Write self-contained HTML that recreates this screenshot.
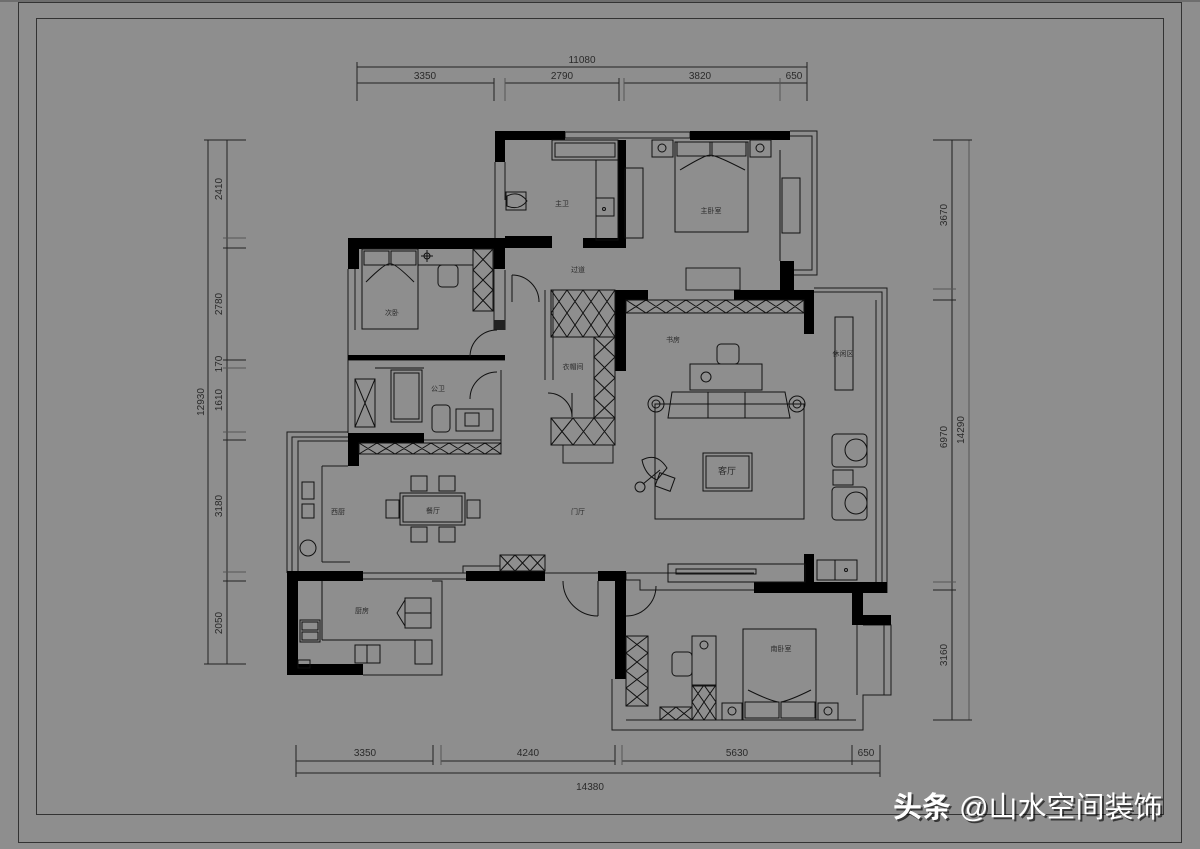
<!DOCTYPE html>
<html><head><meta charset="utf-8"><style>
html,body{margin:0;padding:0;background:#8e8e8e;}
svg{display:block;}
text{font-family:"Liberation Sans","Noto Sans CJK SC",sans-serif;fill:#2a2a2a;}
.d{font-size:10px;fill:#333;}
.l{font-size:7px;fill:#222;}
</style></head><body>
<svg width="1200" height="849" viewBox="0 0 1200 849" xmlns="http://www.w3.org/2000/svg">
<rect width="1200" height="849" fill="#8e8e8e"/>
<rect x="0" y="0" width="1200" height="2" fill="#6e6e6e"/>
<g fill="none" stroke="#333" stroke-width="1">
<rect x="18.5" y="2.5" width="1163" height="840"/>
<rect x="36.5" y="18.5" width="1127" height="796"/>
</g>
<g stroke="#222" stroke-width="1" fill="none">
<line x1="357" y1="67" x2="807" y2="67"/>
<line x1="357" y1="83" x2="494" y2="83"/><line x1="505" y1="83" x2="619" y2="83"/><line x1="624" y1="83" x2="780" y2="83"/><line x1="780" y1="83" x2="807" y2="83"/>
<line x1="357" y1="62" x2="357" y2="101"/><line x1="494" y1="78" x2="494" y2="101"/><line x1="505" y1="78" x2="505" y2="101" stroke="#555"/><line x1="619" y1="78" x2="619" y2="101"/><line x1="624" y1="78" x2="624" y2="101" stroke="#555"/><line x1="780" y1="78" x2="780" y2="101" stroke="#555"/><line x1="807" y1="62" x2="807" y2="101"/>
<line x1="208" y1="140" x2="208" y2="664"/>
<line x1="227" y1="140" x2="227" y2="664"/>
<line x1="204" y1="140" x2="246" y2="140"/><line x1="223" y1="238" x2="246" y2="238" stroke="#555"/><line x1="223" y1="248" x2="246" y2="248"/><line x1="223" y1="360" x2="246" y2="360"/><line x1="223" y1="368" x2="246" y2="368" stroke="#555"/><line x1="223" y1="432" x2="246" y2="432" stroke="#555"/><line x1="223" y1="440" x2="246" y2="440"/><line x1="223" y1="572" x2="246" y2="572" stroke="#555"/><line x1="223" y1="581" x2="246" y2="581"/><line x1="204" y1="664" x2="246" y2="664"/>
<line x1="952" y1="140" x2="952" y2="720" stroke="#444" stroke-width="1.5"/>
<line x1="969" y1="140" x2="969" y2="720" stroke="#555"/>
<line x1="933" y1="140" x2="972" y2="140"/><line x1="933" y1="289" x2="956" y2="289" stroke="#555"/><line x1="933" y1="300" x2="956" y2="300"/><line x1="933" y1="582" x2="956" y2="582" stroke="#555"/><line x1="933" y1="590" x2="956" y2="590"/><line x1="933" y1="720" x2="972" y2="720"/>
<line x1="296" y1="761" x2="433" y2="761"/><line x1="441" y1="761" x2="615" y2="761"/><line x1="622" y1="761" x2="852" y2="761"/><line x1="852" y1="761" x2="880" y2="761"/>
<line x1="296" y1="773" x2="880" y2="773"/>
<line x1="296" y1="745" x2="296" y2="777"/><line x1="433" y1="745" x2="433" y2="765"/><line x1="441" y1="745" x2="441" y2="765" stroke="#555"/><line x1="615" y1="745" x2="615" y2="765"/><line x1="622" y1="745" x2="622" y2="765" stroke="#555"/><line x1="852" y1="745" x2="852" y2="765"/><line x1="880" y1="745" x2="880" y2="777"/>
</g>
<g class="d" text-anchor="middle">
<text x="582" y="63">11080</text>
<text x="425" y="79">3350</text><text x="562" y="79">2790</text><text x="700" y="79">3820</text><text x="794" y="79">650</text>
<text x="365" y="756">3350</text><text x="528" y="756">4240</text><text x="737" y="756">5630</text><text x="866" y="756">650</text>
<text x="590" y="790">14380</text>
<text transform="translate(222,189) rotate(-90)">2410</text>
<text transform="translate(222,304) rotate(-90)">2780</text>
<text transform="translate(222,364) rotate(-90)">170</text>
<text transform="translate(222,400) rotate(-90)">1610</text>
<text transform="translate(222,506) rotate(-90)">3180</text>
<text transform="translate(222,623) rotate(-90)">2050</text>
<text transform="translate(204,402) rotate(-90)">12930</text>
<text transform="translate(947,215) rotate(-90)">3670</text>
<text transform="translate(947,437) rotate(-90)">6970</text>
<text transform="translate(947,655) rotate(-90)">3160</text>
<text transform="translate(964,430) rotate(-90)">14290</text>
</g>
<g fill="none" stroke="#1a1a1a" stroke-width="1">
<rect x="565" y="132" width="125" height="6"/>
<polyline points="790,131 817,131 817,275 794,275"/>
<polyline points="790,136 812,136 812,270 794,270"/>
<line x1="495" y1="162" x2="495" y2="248"/><line x1="505" y1="162" x2="505" y2="200"/>
<line x1="348" y1="269" x2="348" y2="360"/><line x1="355" y1="269" x2="355" y2="330"/>
<line x1="348" y1="360" x2="505" y2="360"/>
<line x1="348" y1="360" x2="348" y2="433"/><line x1="424" y1="440" x2="501" y2="440"/>
<line x1="501" y1="370" x2="501" y2="454"/>
<line x1="494" y1="249" x2="494" y2="330"/><line x1="505" y1="270" x2="505" y2="330"/>
<polyline points="348,432 287,432 287,573"/><polyline points="348,437 292,437 292,573"/><polyline points="348,441 298,441 298,573"/>
<line x1="322" y1="466" x2="348" y2="466"/><line x1="322" y1="466" x2="322" y2="562"/><line x1="322" y1="562" x2="350" y2="562"/>
<line x1="363" y1="573" x2="466" y2="573"/><line x1="363" y1="579" x2="466" y2="579"/>
<polyline points="432,581 442,581 442,675 363,675"/>
<line x1="545" y1="573" x2="598" y2="573"/>
<line x1="626" y1="573" x2="754" y2="573"/>
<polyline points="626,573 626,580 640,580 640,590 754,590"/>
<line x1="545" y1="290" x2="545" y2="380"/><line x1="553" y1="290" x2="553" y2="380"/>
<polyline points="814,288 887,288 887,593"/><polyline points="814,292 882,292 882,582"/><line x1="876" y1="300" x2="876" y2="582"/>
<polyline points="863,625 891,625 891,695 863,695 863,730 612,730 612,679"/><line x1="884" y1="625" x2="884" y2="695"/><line x1="857" y1="625" x2="857" y2="695"/>
<line x1="626" y1="720" x2="856" y2="720"/>
<rect x="686" y="268" width="54" height="22"/>
<rect x="563" y="445" width="50" height="18"/>
<rect x="463" y="566" width="37" height="7"/>
</g>
<g fill="#000">
<rect x="495" y="131" width="70" height="9"/>
<rect x="690" y="131" width="100" height="9"/>
<rect x="495" y="131" width="10" height="31"/>
<rect x="618" y="140" width="8" height="108"/>
<rect x="583" y="238" width="43" height="10"/>
<rect x="505" y="236" width="47" height="12"/>
<rect x="780" y="261" width="14" height="30"/>
<rect x="348" y="238" width="157" height="11"/>
<rect x="348" y="238" width="11" height="31"/>
<rect x="494" y="238" width="11" height="31"/>
<rect x="494" y="320" width="11" height="10" fill="#222"/>
<rect x="348" y="355" width="157" height="5"/>
<rect x="348" y="433" width="76" height="10"/>
<rect x="348" y="433" width="11" height="33"/>
<rect x="615" y="290" width="11" height="81"/>
<rect x="615" y="290" width="33" height="10"/>
<rect x="734" y="290" width="80" height="10"/>
<rect x="804" y="290" width="10" height="44"/>
<rect x="287" y="571" width="76" height="10"/>
<rect x="466" y="571" width="79" height="10"/>
<rect x="287" y="571" width="11" height="104"/>
<rect x="287" y="664" width="76" height="11"/>
<rect x="598" y="571" width="28" height="10"/>
<rect x="615" y="571" width="11" height="108"/>
<rect x="754" y="582" width="133" height="11"/>
<rect x="804" y="554" width="10" height="29"/>
<rect x="852" y="593" width="11" height="32"/>
<rect x="852" y="615" width="39" height="10"/>
</g>
<g fill="none" stroke="#111" stroke-width="1">
<rect x="473" y="249" width="20" height="62"/>
<path d="M473,249 L493,270 M493,249 L473,270 M473,270 L493,290 M493,270 L473,290 M473,290 L493,311 M493,290 L473,311"/>
<rect x="355" y="379" width="20" height="48"/><path d="M355,379 L375,427 M375,379 L355,427"/>
<rect x="359" y="443" width="142" height="11"/>
<path d="M359,443 L377,454 M377,443 L359,454 M377,443 L395,454 M395,443 L377,454 M395,443 L413,454 M413,443 L395,454 M413,443 L431,454 M431,443 L413,454 M431,443 L449,454 M449,443 L431,454 M449,443 L467,454 M467,443 L449,454 M467,443 L485,454 M485,443 L467,454 M485,443 L501,454 M501,443 L485,454"/>
<rect x="551" y="290" width="64" height="47"/>
<path d="M551,290 L567,313 M567,290 L551,313 M567,290 L583,313 M583,290 L567,313 M583,290 L599,313 M599,290 L583,313 M599,290 L615,313 M615,290 L599,313 M551,313 L567,337 M567,313 L551,337 M567,313 L583,337 M583,313 L567,337 M583,313 L599,337 M599,313 L583,337 M599,313 L615,337 M615,313 L599,337"/>
<rect x="594" y="337" width="21" height="81"/>
<path d="M594,337 L615,357 M615,337 L594,357 M594,357 L615,378 M615,357 L594,378 M594,378 L615,398 M615,378 L594,398 M594,398 L615,418 M615,398 L594,418"/>
<rect x="551" y="418" width="64" height="27"/>
<path d="M551,418 L573,445 M573,418 L551,445 M573,418 L594,445 M594,418 L573,445 M594,418 L615,445 M615,418 L594,445"/>
<rect x="626" y="300" width="178" height="13"/>
<path d="M626,300 L646,313 M646,300 L626,313 M646,300 L666,313 M666,300 L646,313 M666,300 L686,313 M686,300 L666,313 M686,300 L706,313 M706,300 L686,313 M706,300 L726,313 M726,300 L706,313 M726,300 L746,313 M746,300 L726,313 M746,300 L766,313 M766,300 L746,313 M766,300 L786,313 M786,300 L766,313 M786,300 L804,313 M804,300 L786,313"/>
<rect x="500" y="555" width="45" height="16"/><path d="M500,555 L515,571 M515,555 L500,571 M515,555 L530,571 M530,555 L515,571 M530,555 L545,571 M545,555 L530,571"/>
<rect x="626" y="636" width="22" height="70"/>
<path d="M626,636 L648,653 M648,636 L626,653 M626,653 L648,671 M648,653 L626,671 M626,671 L648,688 M648,671 L626,688 M626,688 L648,706 M648,688 L626,706"/>
<rect x="660" y="707" width="32" height="13"/><path d="M660,707 L676,720 M676,707 L660,720 M676,707 L692,720 M692,707 L676,720"/>
<rect x="692" y="685" width="24" height="35"/><path d="M692,685 L704,702 M704,685 L692,702 M704,685 L716,702 M716,685 L704,702 M692,702 L704,720 M704,702 L692,720 M704,702 L716,720 M716,702 L704,720"/>
</g>
<g fill="none" stroke="#111" stroke-width="1">
<rect x="552" y="140" width="66" height="20"/><rect x="555" y="143" width="60" height="14"/>
<rect x="506" y="192" width="20" height="18"/><path d="M507,196 q12,-6 20,5 q-8,10 -20,5z"/>
<rect x="596" y="198" width="18" height="18"/><circle cx="604" cy="209" r="1.5"/>
<rect x="596" y="160" width="22" height="80"/>
<rect x="625" y="168" width="18" height="70"/>
<rect x="675" y="142" width="73" height="90"/>
<rect x="677" y="142" width="33" height="14"/><rect x="712" y="142" width="34" height="14"/>
<path d="M680,170 q30,-18 30,-14 M745,170 q-35,-18 -35,-14"/>
<rect x="652" y="140" width="21" height="17"/><circle cx="662" cy="148" r="4"/>
<rect x="750" y="140" width="21" height="17"/><circle cx="760" cy="148" r="4"/>
<rect x="782" y="178" width="18" height="55"/>
<line x1="780" y1="150" x2="780" y2="261"/>
<rect x="362" y="249" width="56" height="80"/>
<rect x="364" y="251" width="25" height="14"/><rect x="391" y="251" width="25" height="14"/>
<path d="M366,282 q20,-20 24,-18 M414,282 q-20,-20 -24,-18"/>
<rect x="438" y="265" width="20" height="22" rx="4"/>
<circle cx="427" cy="256" r="3"/><line x1="421" y1="256" x2="433" y2="256"/><line x1="427" y1="250" x2="427" y2="262"/>
<line x1="418" y1="249" x2="418" y2="265"/><line x1="418" y1="265" x2="473" y2="265"/>
<rect x="391" y="370" width="31" height="52"/><rect x="394" y="373" width="25" height="46"/>
<rect x="432" y="405" width="18" height="27" rx="4"/>
<rect x="456" y="409" width="37" height="22"/><rect x="465" y="413" width="14" height="13"/>
<line x1="375" y1="368" x2="424" y2="368"/>
<rect x="400" y="493" width="65" height="32"/><rect x="403" y="496" width="59" height="26"/>
<rect x="411" y="476" width="16" height="15"/><rect x="439" y="476" width="16" height="15"/>
<rect x="411" y="527" width="16" height="15"/><rect x="439" y="527" width="16" height="15"/>
<rect x="386" y="500" width="13" height="18"/><rect x="467" y="500" width="13" height="18"/>
<rect x="302" y="482" width="12" height="17"/><rect x="302" y="504" width="12" height="14"/>
<circle cx="308" cy="548" r="8"/>
<rect x="300" y="620" width="20" height="22"/><rect x="302" y="622" width="16" height="8"/><rect x="302" y="632" width="16" height="8"/>
<line x1="322" y1="581" x2="322" y2="640"/><line x1="322" y1="640" x2="415" y2="640"/>
<rect x="405" y="598" width="26" height="30"/><line x1="405" y1="613" x2="431" y2="613"/>
<path d="M405,600 l-8,13 l8,13"/>
<rect x="355" y="645" width="25" height="18"/><line x1="367" y1="645" x2="367" y2="663"/>
<rect x="415" y="640" width="17" height="24"/>
<rect x="298" y="660" width="12" height="8"/>
<rect x="690" y="364" width="72" height="26"/><circle cx="706" cy="377" r="5"/>
<rect x="717" y="344" width="22" height="20" rx="4"/>
<rect x="655" y="404" width="149" height="115"/>
<path d="M672,392 L785,392 L790,418 L668,418 Z"/><line x1="708" y1="392" x2="708" y2="418"/><line x1="745" y1="392" x2="745" y2="418"/>
<circle cx="656" cy="404" r="8"/><circle cx="656" cy="404" r="4"/>
<circle cx="797" cy="404" r="8"/><circle cx="797" cy="404" r="4"/>
<rect x="703" y="453" width="49" height="38"/><rect x="706" y="456" width="43" height="32"/>
<path d="M642,460 q15,-8 25,8 l-10,12 q-12,-5 -15,-20z"/><circle cx="640" cy="487" r="5"/><line x1="643" y1="484" x2="660" y2="470"/>
<rect x="657" y="475" width="16" height="14" transform="rotate(20 665 482)"/>
<rect x="832" y="434" width="35" height="33" rx="4"/><circle cx="856" cy="450" r="11"/>
<rect x="832" y="487" width="35" height="33" rx="4"/><circle cx="856" cy="503" r="11"/>
<rect x="833" y="470" width="20" height="15"/>
<rect x="835" y="317" width="18" height="73"/>
<rect x="668" y="564" width="137" height="18"/><rect x="676" y="569" width="80" height="5"/>
<rect x="835" y="560" width="22" height="20"/><circle cx="846" cy="570" r="1.5"/>
<rect x="817" y="560" width="18" height="20"/>
<rect x="743" y="629" width="73" height="91"/>
<rect x="745" y="702" width="34" height="16"/><rect x="781" y="702" width="34" height="16"/>
<path d="M748,690 q20,10 30,12 M811,690 q-20,10 -30,12"/>
<rect x="692" y="636" width="24" height="50"/><circle cx="704" cy="645" r="4"/>
<rect x="672" y="652" width="20" height="24" rx="4"/>
<rect x="722" y="703" width="20" height="17"/><circle cx="732" cy="711" r="4"/>
<rect x="818" y="703" width="20" height="17"/><circle cx="828" cy="711" r="4"/>
<path d="M512,275 a27,27 0 0 1 27,27"/><line x1="512" y1="275" x2="512" y2="302"/>
<path d="M470,357 a27,27 0 0 1 27,-27"/>
<path d="M497,372 a27,27 0 0 0 -27,27"/>
<path d="M548,393 a24,24 0 0 1 24,24"/><line x1="572" y1="393" x2="572" y2="417"/>
<path d="M563,581 a35,35 0 0 0 35,35"/><line x1="598" y1="581" x2="598" y2="616"/>
<path d="M626,616 a30,30 0 0 0 30,-30"/>
</g>
<g class="l" text-anchor="middle">
<text x="711" y="213">主卧室</text><text x="562" y="206">主卫</text>
<text x="392" y="315">次卧</text><text x="438" y="391">公卫</text>
<text x="578" y="272">过道</text><text x="573" y="369">衣帽间</text>
<text x="673" y="342">书房</text><text x="843" y="356">休闲区</text>
<text x="338" y="514">西厨</text><text x="433" y="513">餐厅</text><text x="578" y="514">门厅</text>
<text x="362" y="613">厨房</text><text x="781" y="651">南卧室</text>
<text x="727" y="474" style="font-size:9px">客厅</text>
</g>
<text x="895" y="819" style="font-size:29px;fill:#000" opacity="0.6"><tspan font-weight="bold">头条</tspan> @山水空间装饰</text>
<text x="893" y="817" style="font-size:29px;fill:#fff"><tspan font-weight="bold">头条</tspan> @山水空间装饰</text>
</svg>
</body></html>
